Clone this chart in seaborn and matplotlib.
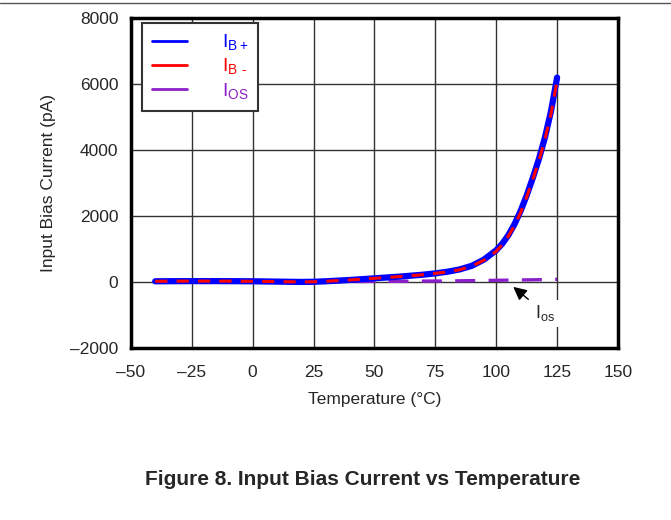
import matplotlib
matplotlib.use('Agg')
import matplotlib.pyplot as plt
from matplotlib.lines import Line2D
import seaborn as sns

# Data
temp_c = [-40, -35, -30, -25, -20, -15, -10, -5, 0, 5, 10, 15, 20, 25, 30, 35, 40,
          45, 50, 55, 60, 65, 70, 75, 80, 85, 90, 95, 100, 102.5, 105, 107.5, 110,
          112.5, 115, 117.5, 120, 122.5, 125]
ib_plus = [20, 22, 24, 25, 25, 25, 24, 22, 20, 15, 10, 5, 0, 5, 20, 40, 60,
           85, 110, 135, 160, 190, 220, 260, 310, 380, 490, 680, 960, 1160, 1420, 1750, 2150,
           2620, 3150, 3720, 4380, 5180, 6200]
ib_minus = [20, 22, 24, 25, 25, 25, 24, 22, 20, 15, 10, 5, 0, 5, 20, 40, 60,
            85, 110, 135, 160, 190, 220, 260, 305, 370, 480, 660, 930, 1130, 1390, 1710, 2100,
            2570, 3100, 3670, 4320, 5100, 6100]
i_os = [5, 5, 5, 5, 5, 5, 5, 5, 5, 5, 5, 5, 5, 5, 8, 10, 12,
        14, 16, 18, 20, 22, 25, 28, 30, 35, 40, 45, 50, 52, 55, 58, 60,
        62, 65, 68, 70, 75, 80]

x_ticks = [-50, -25, 0, 25, 50, 75, 100, 125, 150]
y_ticks = [-2000, 0, 2000, 4000, 6000, 8000]

sns.set_style('white')
plt.rcParams['font.family'] = ['Liberation Sans', 'DejaVu Sans']
plt.rcParams['mathtext.fontset'] = 'custom'
plt.rcParams['mathtext.rm'] = 'Liberation Sans'

fig = plt.figure(figsize=(6.71, 5.2), dpi=100)
ax = fig.add_axes([0.195, 0.331, 0.726, 0.634])

sns.lineplot(x=temp_c, y=ib_plus, ax=ax, color='#0000ff', linewidth=4.5, zorder=3)
sns.lineplot(x=temp_c, y=ib_minus, ax=ax, color='#ff0000', linewidth=2.2, zorder=4)
ax.lines[-1].set_linestyle((0, (4, 3)))
sns.lineplot(x=temp_c, y=i_os, ax=ax, color='#8b1fc9', linewidth=2.4, zorder=2)
ax.lines[-1].set_linestyle((0, (6, 4)))

ax.set_xlim(-50, 150)
ax.set_ylim(-2000, 8000)
ax.set_xticks(x_ticks)
ax.set_yticks(y_ticks)
ax.set_xticklabels([str(v).replace('-', '\u2013') for v in x_ticks], fontsize=12.5)
ax.set_yticklabels([str(v).replace('-', '\u2013') for v in y_ticks], fontsize=12.5)
ax.tick_params(axis='x', length=0, pad=12)
ax.tick_params(axis='y', length=0, pad=9)
ax.grid(True, color='#333333', linewidth=1)
for s in ax.spines.values():
    s.set_linewidth(2.5)
    s.set_color('black')

ax.set_xlabel('Temperature (°C)', fontsize=12.5, labelpad=9)
ax.set_ylabel('Input Bias Current (pA)', fontsize=12.5, labelpad=10)

handles = [Line2D([], [], color='#0000ff', lw=2),
           Line2D([], [], color='#ff0000', lw=2),
           Line2D([], [], color='#8b1fc9', lw=2)]
labels = [r'I$_{\mathregular{B+}}$', 'I$_{\\mathregular{B\\ \u2010}}$', r'I$_{\mathregular{OS}}$']
leg = ax.legend(handles, labels, loc='upper left', fontsize=14, frameon=True,
                fancybox=False, edgecolor='#333333', framealpha=1,
                handlelength=1.8, borderpad=0.5, labelspacing=0.2,
                handletextpad=1.8, borderaxespad=0,
                bbox_to_anchor=(0.0226, 0.985))
leg.get_frame().set_linewidth(1.5)
for txt, c in zip(leg.get_texts(), ['#0000ff', '#ff0000', '#8b1fc9']):
    txt.set_color(c)

ax.annotate(r'I$_{\mathregular{os}}$', xy=(107, -150), xytext=(116, -950),
            fontsize=13, ha='left', va='center',
            bbox=dict(boxstyle='square,pad=0.2', fc='white', ec='none'),
            arrowprops=dict(arrowstyle='-|>', color='black', lw=1,
                            mutation_scale=20, shrinkA=3, shrinkB=0),
            zorder=6)

fig.add_artist(Line2D([0, 1], [0.994, 0.994], color='#555555', lw=1))
fig.text(0.541, 0.077, 'Figure 8. Input Bias Current vs Temperature',
         ha='center', va='center', fontsize=15, fontweight='bold')

fig.savefig('out.png', dpi=100)
